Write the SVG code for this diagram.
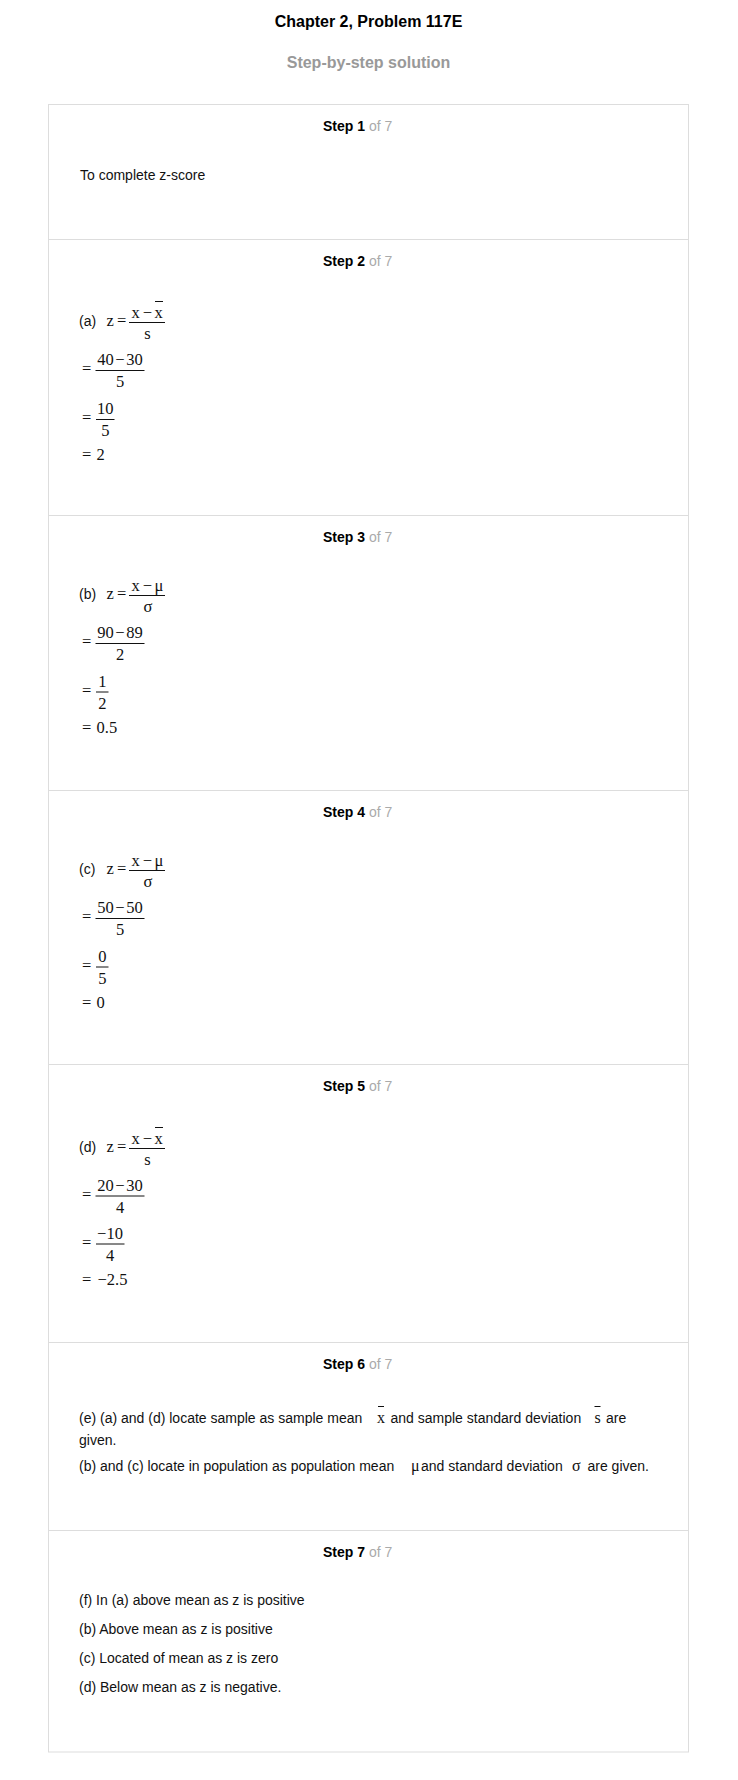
<svg xmlns="http://www.w3.org/2000/svg" width="738" height="1780" viewBox="0 0 738 1780">
<style>
.t{font-family:"Liberation Sans",Arial,sans-serif;font-size:14px;fill:#111}
.h{font-family:"Liberation Sans",Arial,sans-serif;font-size:16px;font-weight:bold;text-anchor:middle}
.sl{font-family:"Liberation Sans",Arial,sans-serif;font-size:14px;font-weight:bold;fill:#000}
.of{font-weight:normal;fill:#aaa}
.m{font-family:"Liberation Serif","Times New Roman",serif;font-size:16.5px;fill:#111}
.mi{font-family:"Liberation Serif","Times New Roman",serif;font-size:16px;fill:#111}
.c{text-anchor:middle}
.fl{stroke:#111;stroke-width:1}
.bd{fill:none;stroke:#ddd;stroke-width:1}
</style>
<rect width="738" height="1780" fill="#fff"/>
<g id="header">
<text class="h" x="368.5" y="27" fill="#000">Chapter 2, Problem 117E</text>
<text class="h" x="368.5" y="68" fill="#999">Step-by-step solution</text>
</g>
<g id="frame">
<rect class="bd" x="48.5" y="104.5" width="640" height="1647.5"/>
<line class="bd" x1="48.5" y1="239.5" x2="688.5" y2="239.5"/>
<line class="bd" x1="48.5" y1="515.5" x2="688.5" y2="515.5"/>
<line class="bd" x1="48.5" y1="790.5" x2="688.5" y2="790.5"/>
<line class="bd" x1="48.5" y1="1064.5" x2="688.5" y2="1064.5"/>
<line class="bd" x1="48.5" y1="1342.5" x2="688.5" y2="1342.5"/>
<line class="bd" x1="48.5" y1="1530.5" x2="688.5" y2="1530.5"/>
</g>
<g id="step1">
<text class="sl" x="323" y="131">Step 1<tspan class="of"> of 7</tspan></text>
<text class="t" x="80" y="180">To complete z-score</text>
</g>
<g id="step2">
<text class="sl" x="323" y="266">Step 2<tspan class="of"> of 7</tspan></text>
<text class="t" x="79" y="326">(a)</text>
<text class="m" y="326"><tspan x="106.5">z</tspan><tspan x="117">=</tspan></text>
<line class="fl" x1="129" y1="322.5" x2="165" y2="322.5"/>
<text class="m" y="318"><tspan x="131.5">x</tspan><tspan x="142.7">−</tspan><tspan x="154.5">x</tspan></text>
<line class="fl" x1="155" y1="301.5" x2="163" y2="301.5"/>
<text class="m c" x="147.5" y="338.5">s</text>
<text class="m" x="82" y="374">=</text>
<line class="fl" x1="95.5" y1="370.5" x2="144.5" y2="370.5"/>
<text class="m c" x="120" y="365">40<tspan dx="1.5">−</tspan><tspan dx="1.5">30</tspan></text>
<text class="m c" x="120" y="387">5</text>
<text class="m" x="82" y="423">=</text>
<line class="fl" x1="96" y1="419.5" x2="114.5" y2="419.5"/>
<text class="m c" x="105.3" y="414">10</text>
<text class="m c" x="105.3" y="436">5</text>
<text class="m" y="460"><tspan x="82">=</tspan><tspan x="96.5">2</tspan></text>
</g>
<g id="step3">
<text class="sl" x="323" y="542">Step 3<tspan class="of"> of 7</tspan></text>
<text class="t" x="79" y="599">(b)</text>
<text class="m" y="599"><tspan x="106.5">z</tspan><tspan x="117">=</tspan></text>
<line class="fl" x1="129" y1="595.5" x2="165" y2="595.5"/>
<text class="m" y="591"><tspan x="131.5">x</tspan><tspan x="142.7">−</tspan><tspan x="154.5">μ</tspan></text>
<text class="m c" x="148" y="611.5">σ</text>
<text class="m" x="82" y="647">=</text>
<line class="fl" x1="95.5" y1="643.5" x2="144.5" y2="643.5"/>
<text class="m c" x="120" y="638">90<tspan dx="1.5">−</tspan><tspan dx="1.5">89</tspan></text>
<text class="m c" x="120" y="660">2</text>
<text class="m" x="82" y="695.5">=</text>
<line class="fl" x1="96" y1="692" x2="108.5" y2="692"/>
<text class="m c" x="102.3" y="686.5">1</text>
<text class="m c" x="102.3" y="708.5">2</text>
<text class="m" y="733"><tspan x="82">=</tspan><tspan x="96.5">0.5</tspan></text>
</g>
<g id="step4">
<text class="sl" x="323" y="816.5">Step 4<tspan class="of"> of 7</tspan></text>
<text class="t" x="79" y="874">(c)</text>
<text class="m" y="874"><tspan x="106.5">z</tspan><tspan x="117">=</tspan></text>
<line class="fl" x1="129" y1="870.5" x2="165" y2="870.5"/>
<text class="m" y="866"><tspan x="131.5">x</tspan><tspan x="142.7">−</tspan><tspan x="154.5">μ</tspan></text>
<text class="m c" x="148" y="886.5">σ</text>
<text class="m" x="82" y="922">=</text>
<line class="fl" x1="95.5" y1="918.5" x2="144.5" y2="918.5"/>
<text class="m c" x="120" y="913">50<tspan dx="1.5">−</tspan><tspan dx="1.5">50</tspan></text>
<text class="m c" x="120" y="935">5</text>
<text class="m" x="82" y="970.5">=</text>
<line class="fl" x1="96" y1="967" x2="108.5" y2="967"/>
<text class="m c" x="102.3" y="961.5">0</text>
<text class="m c" x="102.3" y="983.5">5</text>
<text class="m" y="1008"><tspan x="82">=</tspan><tspan x="96.5">0</tspan></text>
</g>
<g id="step5">
<text class="sl" x="323" y="1091">Step 5<tspan class="of"> of 7</tspan></text>
<text class="t" x="79" y="1152">(d)</text>
<text class="m" y="1152"><tspan x="106.5">z</tspan><tspan x="117">=</tspan></text>
<line class="fl" x1="129" y1="1148.5" x2="165" y2="1148.5"/>
<text class="m" y="1144"><tspan x="131.5">x</tspan><tspan x="142.7">−</tspan><tspan x="154.5">x</tspan></text>
<line class="fl" x1="155" y1="1127.5" x2="163" y2="1127.5"/>
<text class="m c" x="147.5" y="1164.5">s</text>
<text class="m" x="82" y="1199.5">=</text>
<line class="fl" x1="95.5" y1="1196" x2="144.5" y2="1196"/>
<text class="m c" x="120" y="1190.5">20<tspan dx="1.5">−</tspan><tspan dx="1.5">30</tspan></text>
<text class="m c" x="120" y="1212.5">4</text>
<text class="m" x="82" y="1247.5">=</text>
<line class="fl" x1="96" y1="1244" x2="124.5" y2="1244"/>
<text class="m c" x="110" y="1238.5">−10</text>
<text class="m c" x="110" y="1260.5">4</text>
<text class="m" y="1285"><tspan x="82">=</tspan><tspan x="97.5">−2.5</tspan></text>
</g>
<g id="step6">
<text class="sl" x="323" y="1369">Step 6<tspan class="of"> of 7</tspan></text>
<text class="t" x="79" y="1423">(e) (a) and (d) locate sample as sample mean</text>
<text class="mi" x="377" y="1423">x</text>
<line class="fl" x1="378" y1="1406.5" x2="384" y2="1406.5"/>
<text class="t" x="390.5" y="1423">and sample standard deviation</text>
<text class="mi" x="594.5" y="1423">s</text>
<line class="fl" x1="594.5" y1="1406.5" x2="600.5" y2="1406.5"/>
<text class="t" x="606" y="1423">are</text>
<text class="t" x="79" y="1445">given.</text>
<text class="t" x="79" y="1471">(b) and (c) locate in population as population mean</text>
<text class="mi" x="411" y="1471">μ</text>
<text class="t" x="421" y="1471">and standard deviation</text>
<text class="mi" x="572" y="1471">σ</text>
<text class="t" x="587.5" y="1471">are given.</text>
</g>
<g id="step7">
<text class="sl" x="323" y="1557">Step 7<tspan class="of"> of 7</tspan></text>
<text class="t" x="79" y="1605">(f) In (a) above mean as z is positive</text>
<text class="t" x="79" y="1634">(b) Above mean as z is positive</text>
<text class="t" x="79" y="1663">(c) Located of mean as z is zero</text>
<text class="t" x="79" y="1692">(d) Below mean as z is negative.</text>
</g>
</svg>
